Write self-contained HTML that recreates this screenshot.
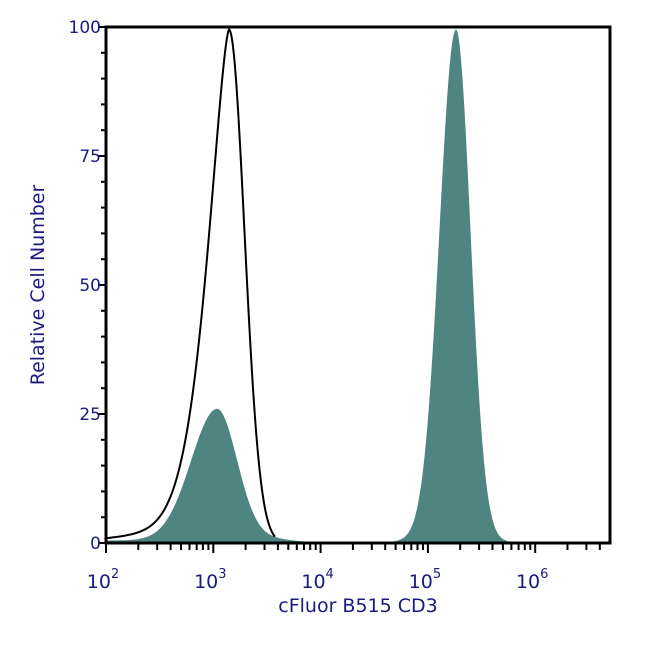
<!DOCTYPE html>
<html><head><style>
html,body{margin:0;padding:0;background:#fff;}
svg{display:block;font-family:"DejaVu Sans","Liberation Sans",sans-serif;}
</style></head><body>
<svg id="s" width="650" height="650" viewBox="0 0 650 650">
<path id="f1" fill="#4e8580" d=""/>
<path id="f2" fill="#4e8580" d=""/>
<path id="l1" fill="none" stroke="#000" stroke-width="2" d=""/>
<rect x="106" y="27" width="504" height="516" fill="none" stroke="#000" stroke-width="3"/>
<g id="ticks" stroke="#000" stroke-width="2"></g>
<g fill="#1a1a80" font-size="17" text-anchor="end">
<text x="101" y="33">100</text>
<text x="101" y="162">75</text>
<text x="101" y="291">50</text>
<text x="101" y="420">25</text>
<text x="101" y="549">0</text>
</g>
<g fill="#1a1a80" font-size="19" text-anchor="middle" id="xl"></g>
<text x="358" y="612" fill="#1a1a80" font-size="19" text-anchor="middle">cFluor B515 CD3</text>
<text transform="translate(44,285) rotate(-90)" fill="#1a1a80" font-size="19" text-anchor="middle">Relative Cell Number</text>
</svg>
<script>
var X0=106,D=107.3,Y0=543,H=516;
function Y(p){return Y0-H*p/100;}
function g(x,c,sl,sr){var s=x<c?sl:sr;return Math.exp(-0.5*((x-c)/s)*((x-c)/s));}
function e15(x,c,sl,sr){var s=x<c?sl:sr;return Math.exp(-Math.pow(Math.abs(x-c)/s,1.5));}
function path(f,a,b,closed,peak){var mx=0,x;for(x=a;x<=b;x+=0.5)mx=Math.max(mx,f(x));var k=peak/mx,d="";for(x=a;x<=b;x+=0.5){var p=f(x)*k;d+=(d?"L":"M")+x.toFixed(1)+","+Y(p).toFixed(1);}if(closed)d+="L"+b+","+Y0+"L"+a+","+Y0+"Z";return d;}
document.getElementById("l1").setAttribute("d",path(function(x){var v=x<229?e15(x,229,31,31):g(x,229,1,15.5);return 100*v+1.6*g(x,165,55,30);},107,275,false,99.5));
document.getElementById("f1").setAttribute("d",path(function(x){return 26*g(x,217,26,20)+0.8*g(x,265,50,25)+0.5*(x<217?1:Math.exp(-(x-217)/40));},107,330,true,26));
document.getElementById("f2").setAttribute("d",path(function(x){return 100*g(x,456,16.5,14.5)+1*g(x,445,30,35);},375,540,true,99.5));
var t=document.getElementById("ticks"),xl=document.getElementById("xl"),s="";
for(var e=2;e<=6;e++){for(var m=1;m<=9;m++){var x=X0+D*(e-2+Math.log10(m));if(x>610)break;var L=m==1?10:7;s+='<line x1="'+x+'" y1="543" x2="'+x+'" y2="'+(543+L)+'"/>';}
var xx=X0+D*(e-2);xl.innerHTML+='<text x="'+(xx-3)+'" y="588">10<tspan font-size="13" dy="-10">'+e+'</tspan></text>';}
for(var i=0;i<=20;i++){var y=Y0-H*i/20;var L=i%5==0?8:5;s+='<line x1="'+(106-L)+'" y1="'+y+'" x2="106" y2="'+y+'"/>';}
t.innerHTML=s;
</script>
</body></html>
